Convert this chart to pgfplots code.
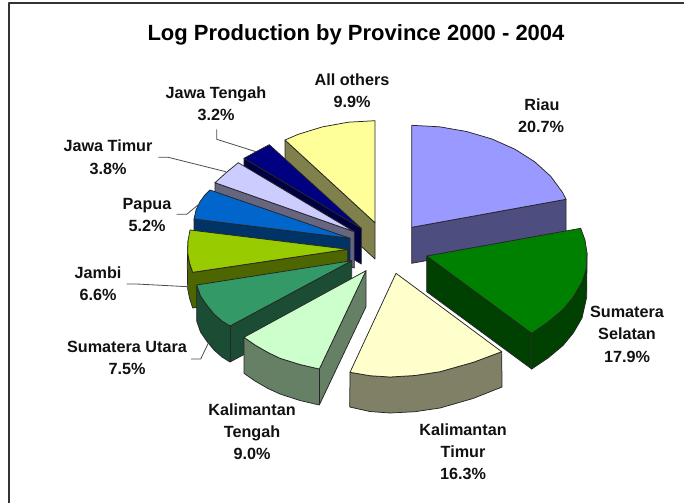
\documentclass[border=0pt]{standalone}
\usepackage{pgfplots}
\pgfplotsset{compat=1.18}
\usepackage{fontspec}
\setmainfont{Liberation Sans}
\definecolor{txt}{HTML}{111111}
\definecolor{HTMLolive}{HTML}{80804D}
\definecolor{HTMLpy}{HTML}{FFFF99}
\definecolor{HTMLnavyd}{HTML}{000040}
\definecolor{HTMLnavy}{HTML}{000080}
\definecolor{HTMLperid}{HTML}{666680}
\definecolor{HTMLperi}{HTML}{CCCCFF}
\definecolor{HTMLblued}{HTML}{003366}
\definecolor{HTMLblue}{HTML}{0066CC}
\definecolor{HTMLlimed}{HTML}{4D6600}
\definecolor{HTMLlime}{HTML}{99CC00}
\definecolor{HTMLsead}{HTML}{1A4D33}
\definecolor{HTMLsea}{HTML}{339966}
\definecolor{HTMLlgd}{HTML}{668066}
\definecolor{HTMLlg}{HTML}{CCFFCC}
\definecolor{HTMLperid2}{HTML}{4D4D80}
\definecolor{HTMLriau}{HTML}{9999FF}
\definecolor{HTMLgrd}{HTML}{004000}
\definecolor{HTMLgr}{HTML}{008000}
\definecolor{HTMLlyd}{HTML}{808066}
\definecolor{HTMLly}{HTML}{FFFFCC}
\tikzset{
  lab/.style={anchor=base,font=\fontsize{16.2}{18}\selectfont\bfseries,text=txt,inner sep=0pt},
  lead/.style={draw=black!70,line width=0.8pt,fill=none}}
\begin{document}
\begin{tikzpicture}
\path[use as bounding box] (0,0) rectangle (684pt,503pt);
\begin{axis}[at={(0,0)},anchor=south west,scale only axis,width=684pt,height=503pt,
  xmin=0,xmax=684,ymin=0,ymax=503,y dir=reverse,hide axis,clip=false,no markers,
  every axis plot/.append style={line width=0.75pt,line join=round,draw=black!85}]
% frame
\addplot[draw=black!80,line width=2pt,line cap=butt] coordinates {(9,503) (9,3) (684,3)};
% All others
\addplot[fill=HTMLolive] coordinates {(285,140) (375,222.7) (375,259) (285,176.3)} -- cycle;
\addplot[fill=HTMLpy] coordinates {(285,140) (298,134.4) (322.3,126.9) (348.3,122.2) (375,120.7) (375,222.7)} -- cycle;
% Jawa Tengah
\addplot[fill=HTMLnavyd] coordinates {(244,158.3) (361.3,228.3) (361.3,264) (244,194)} -- cycle;
\addplot[fill=HTMLnavy] coordinates {(244,158.3) (256.7,151.4) (269.3,144.7) (361.3,228.3)} -- cycle;
% Jawa Timur
\addplot[fill=HTMLperid] coordinates {(215,182.7) (354.3,231.7) (354.3,268) (215,219)} -- cycle;
\addplot[fill=HTMLperi] coordinates {(215,182.7) (226.5,172.3) (238.3,162.7) (354.3,231.7)} -- cycle;
% Papua
\addplot[fill=HTMLblued] coordinates {(194,219) (350,238.3) (350,274) (194,255)} -- cycle;
\addplot[fill=HTMLblue] coordinates {(194,219) (196,210) (200,201.7) (204.5,195.5) (210,190) (350,238.3)} -- cycle;
% Jambi
\addplot[fill=HTMLlimed] coordinates {(188,241) (187.7,253) (189.5,263) (192.7,272.3) (347.7,249.3) (347.7,285) (192.7,308) (189.5,298) (187.7,289) (187.3,265)} -- cycle;
\addplot[fill=HTMLlime] coordinates {(190,230) (188,241) (187.7,253) (189.5,263) (192.7,272.3) (347.7,249.3)} -- cycle;
% Sumatera Utara
\addplot[fill=HTMLsead] coordinates {(196.7,285) (200.5,296) (206.7,305) (214,314) (222,321) (230,326) (351.7,260.7) (351.7,296.7) (230,362) (222,357) (214,350) (206.7,341) (200.5,332) (196.7,321)} -- cycle;
\addplot[draw=black!85] coordinates {(230,326) (230,362)};
\addplot[fill=HTMLsea] coordinates {(196.7,285) (200.5,296) (206.7,305) (214,314) (222,321) (230,326) (351.7,260.7)} -- cycle;
% Kalimantan Tengah
\addplot[fill=HTMLlgd] coordinates {(244,337.3) (255,345) (268,352.5) (280,358.3) (300,364.5) (319.3,369) (366,270.7) (366,306.7) (319.3,405) (300,400.5) (280,394) (268,388.5) (255,381) (244,373.3)} -- cycle;
\addplot[draw=black!85] coordinates {(319.3,369) (319.3,405)};
\addplot[fill=HTMLlg] coordinates {(244,337.3) (255,345) (268,352.5) (280,358.3) (300,364.5) (319.3,369) (366,270.7)} -- cycle;
% Riau
\addplot[fill=HTMLperid2] coordinates {(411.7,227.3) (566,199.3) (566,235.3) (411.7,263.3)} -- cycle;
\addplot[fill=HTMLriau] coordinates {(411.7,125.3) (439.6,126.8) (466.6,131.5) (492,139) (514.9,149.2) (534.6,161.7) (550.7,176.3) (562.5,192.4) (566,199.3) (411.7,227.3)} -- cycle;
% Sumatera Selatan
\addplot[fill=HTMLgrd] coordinates {(426.7,256) (531.7,333.3) (531.7,369) (426.7,291.7)} -- cycle;
\addplot[fill=HTMLgrd] coordinates {(587,253) (586.7,297) (582,318) (573.3,333) (563,345.5) (548,358) (531.7,369) (531.7,333.3) (548,322) (563,309.5) (573.3,297) (582,282) (586.5,268)} -- cycle;
\addplot[fill=HTMLgr] coordinates {(426.7,256) (580.7,228.3) (585,240) (587,253) (586.5,268) (582,282) (573.3,297) (563,309.5) (548,322) (531.7,333.3)} -- cycle;
% Kalimantan Timur
\addplot[fill=HTMLlyd] coordinates {(350,372.3) (370,375.7) (390,377) (415,375.5) (440,371.7) (473.3,362.3) (501.7,351.7) (502,387) (473,398.5) (440,408) (415,411.7) (390,413) (370,411.5) (349.7,407)} -- cycle;
\addplot[fill=HTMLly] coordinates {(396,273.3) (350,372.3) (370,375.7) (390,377) (415,375.5) (440,371.7) (473.3,362.3) (501.7,351.7)} -- cycle;
% leaders
\addplot[lead] coordinates {(216.7,129.3) (216.7,139.3) (256,151.7)};
\addplot[lead] coordinates {(158.3,157.3) (168.3,157.3) (225.7,171.7)};
\addplot[lead] coordinates {(176.7,214.3) (186.7,214.3) (200,203.3)};
\addplot[lead] coordinates {(126.7,284) (136.7,284) (187.7,286.7)};
\addplot[lead] coordinates {(191,359) (200.7,359) (209,341.7)};
% text
\node[anchor=base,font=\fontsize{22}{24}\selectfont\bfseries,inner sep=0pt] at (axis cs:356,41) {Log Production by Province 2000 - 2004};
\node[lab] at (axis cs:542,110.5) {Riau};
\node[lab] at (axis cs:541,132.5) {20.7\%};
\node[lab] at (axis cs:627,317.5) {Sumatera};
\node[lab] at (axis cs:627,339.5) {Selatan};
\node[lab] at (axis cs:627,362.5) {17.9\%};
\node[lab] at (axis cs:463,435.5) {Kalimantan};
\node[lab] at (axis cs:463,457.5) {Timur};
\node[lab] at (axis cs:463,479.5) {16.3\%};
\node[lab] at (axis cs:252,415.5) {Kalimantan};
\node[lab] at (axis cs:252,437.5) {Tengah};
\node[lab] at (axis cs:252,459.5) {9.0\%};
\node[lab] at (axis cs:127,352.5) {Sumatera Utara};
\node[lab] at (axis cs:127,374.5) {7.5\%};
\node[lab] at (axis cs:98,278.5) {Jambi};
\node[lab] at (axis cs:98,300.5) {6.6\%};
\node[lab] at (axis cs:147,209.5) {Papua};
\node[lab] at (axis cs:147,231.5) {5.2\%};
\node[lab] at (axis cs:108,151.5) {Jawa Timur};
\node[lab] at (axis cs:108,174.5) {3.8\%};
\node[lab] at (axis cs:216,98.5) {Jawa Tengah};
\node[lab] at (axis cs:216,120.5) {3.2\%};
\node[lab] at (axis cs:352,85.5) {All others};
\node[lab] at (axis cs:352,107.5) {9.9\%};
\end{axis}
\end{tikzpicture}
\end{document}
